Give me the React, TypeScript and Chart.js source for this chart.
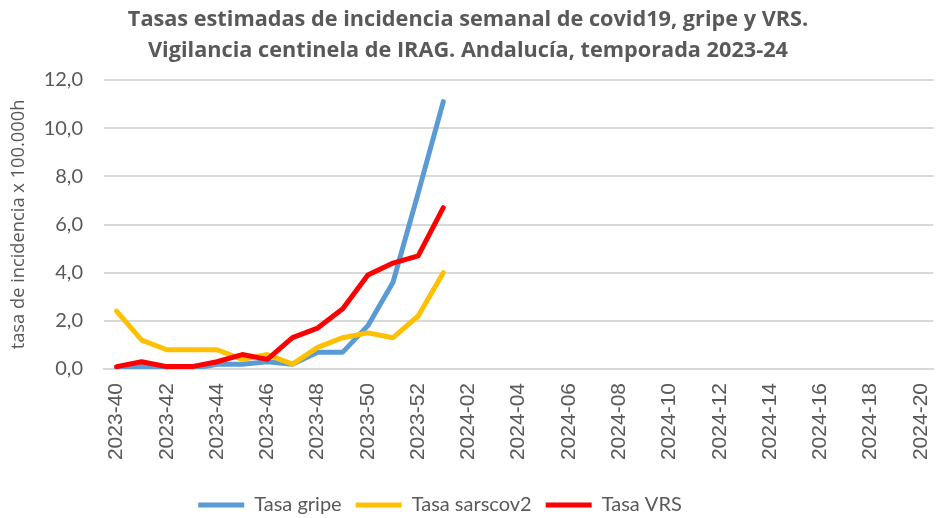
import React, { useEffect, useRef } from "react";
import { Chart, registerables } from "chart.js";

Chart.register(...registerables);

const weeks: string[] = [
  "2023-40", "2023-41", "2023-42", "2023-43", "2023-44", "2023-45", "2023-46",
  "2023-47", "2023-48", "2023-49", "2023-50", "2023-51", "2023-52",
  "2024-01", "2024-02", "2024-03", "2024-04", "2024-05", "2024-06", "2024-07",
  "2024-08", "2024-09", "2024-10", "2024-11", "2024-12", "2024-13", "2024-14",
  "2024-15", "2024-16", "2024-17", "2024-18", "2024-19", "2024-20",
];

const tasaGripe: number[] = [0.0, 0.1, 0.0, 0.0, 0.2, 0.2, 0.3, 0.2, 0.7, 0.7, 1.8, 3.6, 7.3, 11.1];
const tasaSarscov2: number[] = [2.4, 1.2, 0.8, 0.8, 0.8, 0.4, 0.6, 0.2, 0.9, 1.3, 1.5, 1.3, 2.2, 4.0];
const tasaVRS: number[] = [0.1, 0.3, 0.1, 0.1, 0.3, 0.6, 0.4, 1.3, 1.7, 2.5, 3.9, 4.4, 4.7, 6.7];

const seriesNames: string[] = ["Tasa gripe", "Tasa sarscov2", "Tasa VRS"];
const seriesColors: string[] = ["#5B9BD5", "#FFC000", "#FF0000"];

const titleLines: string[] = [
  "Tasas estimadas de incidencia semanal de covid19, gripe y VRS.",
  "Vigilancia centinela de IRAG. Andalucía, temporada 2023-24",
];
const yAxisTitle = "tasa de incidencia x 100.000h";
const yMin = 0;
const yMax = 12;
const yStep = 2;

const TEXT = "#595959";
const GRID = "#D9D9D9";

const shiftPlugin = {
  id: "shiftBlocks",
  afterLayout(chart: any) {
    const t = chart.titleBlock;
    if (t) {
      t.left -= 12;
      t.right -= 12;
    }
    const l = chart.legend;
    if (l) {
      l.left -= 40;
      l.right -= 40;
    }
  },
};

export default function App() {
  const ref = useRef<HTMLCanvasElement | null>(null);

  useEffect(() => {
    if (!ref.current) return;
    const data = [tasaGripe, tasaSarscov2, tasaVRS];
    const chart = new Chart(ref.current, {
      type: "line",
      data: {
        labels: weeks,
        datasets: data.map((d, i) => ({
          label: seriesNames[i],
          data: d,
          borderColor: seriesColors[i],
          backgroundColor: seriesColors[i],
          borderWidth: 5,
          borderJoinStyle: "round" as const,
          borderCapStyle: "round" as const,
          pointRadius: 0,
          pointHoverRadius: 0,
          tension: 0,
          fill: false,
          order: 2 - i,
        })),
      },
      options: {
        responsive: false,
        devicePixelRatio: 1,
        animation: false,
        layout: { padding: 0 },
        plugins: {
          title: {
            display: true,
            text: titleLines,
            color: TEXT,
            font: { family: "Open Sans", size: 21.7, weight: "bold", lineHeight: "31px" },
            padding: { top: 4, bottom: 14 },
          },
          legend: {
            display: true,
            position: "bottom",
            labels: {
              usePointStyle: true,
              pointStyle: "line",
              pointStyleWidth: 46,
              color: TEXT,
              font: { family: "Lato", size: 20, lineHeight: 1 },
              padding: 14,
              sort: (a: any, b: any) => a.datasetIndex - b.datasetIndex,
            },
          },
          tooltip: { enabled: false },
        },
        scales: {
          x: {
            type: "category",
            offset: true,
            grid: { display: false, drawTicks: false },
            border: { display: true, color: GRID, width: 2 },
            ticks: {
              autoSkip: false,
              maxRotation: 90,
              minRotation: 90,
              padding: 14,
              color: TEXT,
              font: { family: "Liberation Sans", size: 21 },
              callback: (_v: any, index: number) => (index % 2 === 0 ? weeks[index] : ""),
            },
            afterFit: (s: any) => {
              s.height = 112;
            },
          },
          y: {
            min: yMin,
            max: yMax,
            grid: { color: GRID, lineWidth: 2, drawTicks: false },
            border: { display: false },
            ticks: {
              stepSize: yStep,
              padding: 21,
              color: TEXT,
              font: { family: "Lato", size: 20 },
              callback: (v: any) => Number(v).toFixed(1).replace(".", ","),
            },
            title: {
              display: true,
              text: yAxisTitle,
              color: TEXT,
              font: { family: "Open Sans", size: 18.3 },
              padding: { top: 8, bottom: 0 },
            },
            afterFit: (s: any) => {
              s.width = 104;
            },
          },
        },
      },
      plugins: [shiftPlugin],
    });
    return () => chart.destroy();
  }, []);

  return (
    <div
      style={{
        position: "absolute",
        left: 0,
        top: 0,
        width: 949,
        height: 518,
        overflow: "hidden",
        background: "#ffffff",
      }}
    >
      <canvas ref={ref} width={960} height={525} style={{ display: "block" }} />
    </div>
  );
}
